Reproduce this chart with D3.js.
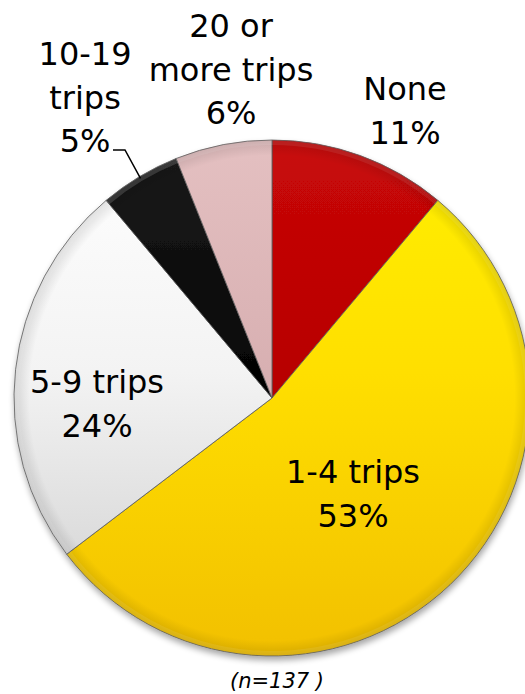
<!DOCTYPE html>
<html>
<head>
<meta charset="utf-8">
<script src="https://cdn.jsdelivr.net/npm/d3@7"></script>
<style>
  html, body { margin: 0; padding: 0; background: #fff; }
  svg { display: block; }
</style>
</head>
<body>
<script>
// chart data
var categories = ["None", "1-4 trips", "5-9 trips", "10-19 trips", "20 or more trips"];
var shares = [11, 53, 24, 5, 6];
var pctLabels = ["11%", "53%", "24%", "5%", "6%"];
var labelLines = [["None", "11%"], ["1-4 trips", "53%"], ["5-9 trips", "24%"], ["10-19", "trips", "5%"], ["20 or", "more trips", "6%"]];
var note = "(n=137 )";

var width = 525, height = 694;
var cx = 272, cy = 398, radius = 258;

var colors = ["#b80202", "#ffdf00", "#f3f3f3", "#050505", "#d8b0b2"];
var lightColors = ["#c80808", "#fff000", "#ffffff", "#1c1c1c", "#e4c0c1"];
var darkColors = ["#a00000", "#f2c000", "#cdcdcd", "#000000", "#c69ea0"];

// label anchors relative to pie centre (first line baseline)
var labelPos = [[133, -298], [81, 85], [-175, -5], [-187, -333], [-41, -361]];
var lineGap = 43.5;

var svg = d3.select("body").append("svg")
  .attr("width", width)
  .attr("height", height);

var defs = svg.append("defs");

// vertical shading for each slice
colors.forEach(function (c, i) {
  var g = defs.append("linearGradient")
    .attr("id", "grad" + i)
    .attr("gradientUnits", "userSpaceOnUse")
    .attr("x1", 0).attr("y1", -radius)
    .attr("x2", 0).attr("y2", radius);
  g.append("stop").attr("offset", "0%").attr("stop-color", lightColors[i]);
  g.append("stop").attr("offset", "45%").attr("stop-color", colors[i]);
  g.append("stop").attr("offset", "100%").attr("stop-color", darkColors[i]);
});

// rim darkening
var rim = defs.append("radialGradient")
  .attr("id", "rim")
  .attr("gradientUnits", "userSpaceOnUse")
  .attr("cx", 0).attr("cy", 0).attr("r", radius);
rim.append("stop").attr("offset", "94%").attr("stop-color", "#000").attr("stop-opacity", 0);
rim.append("stop").attr("offset", "100%").attr("stop-color", "#000").attr("stop-opacity", 0.12);

var shadow = defs.append("filter").attr("id", "shadow")
  .attr("x", "-10%").attr("y", "-10%").attr("width", "120%").attr("height", "120%");
shadow.append("feGaussianBlur").attr("in", "SourceAlpha").attr("stdDeviation", 3);
shadow.append("feOffset").attr("dx", 1).attr("dy", 4).attr("result", "b");
shadow.append("feComponentTransfer").append("feFuncA").attr("type", "linear").attr("slope", 0.35);
var merge = shadow.append("feMerge");
merge.append("feMergeNode");
merge.append("feMergeNode").attr("in", "SourceGraphic");

var pie = d3.pie().sort(null).value(function (d) { return d; });
var arcs = pie(shares);

var arc = d3.arc().innerRadius(0).outerRadius(radius);
var bevel = d3.arc().innerRadius(radius - 5).outerRadius(radius);

var g = svg.append("g").attr("transform", "translate(" + cx + "," + cy + ")");

var pieG = g.append("g").attr("filter", "url(#shadow)");

pieG.selectAll("path.slice")
  .data(arcs)
  .enter().append("path")
  .attr("class", "slice")
  .attr("d", arc)
  .attr("fill", function (d, i) { return "url(#grad" + i + ")"; })
  .attr("stroke", "#5a5a5a")
  .attr("stroke-width", 0.8)
  .attr("stroke-linejoin", "round");

g.append("circle")
  .attr("r", radius)
  .attr("fill", "url(#rim)")
  .attr("pointer-events", "none");

// light bevel near rim
g.selectAll("path.bevel")
  .data(arcs)
  .enter().append("path")
  .attr("class", "bevel")
  .attr("d", bevel)
  .attr("fill", "#fff")
  .attr("opacity", function (d, i) { return i === 3 ? 0.15 : 0.08; });

// labels
var labels = g.selectAll("text.lab")
  .data(arcs)
  .enter().append("text")
  .attr("class", "lab")
  .attr("text-anchor", "middle")
  .attr("font-family", "DejaVu Sans, sans-serif")
  .attr("font-size", 32)
  .attr("fill", "#000");

labels.each(function (d, i) {
  var t = d3.select(this);
  labelLines[i].forEach(function (line, k) {
    t.append("tspan")
      .attr("x", labelPos[i][0])
      .attr("y", labelPos[i][1] + k * lineGap)
      .text(line);
  });
});

// leader line for the 10-19 slice
var leadStart = [labelPos[3][0] + 28, labelPos[3][1] + 2 * lineGap - 2];
var leadEnd = d3.arc().innerRadius(radius - 2).outerRadius(radius - 2).centroid(arcs[3]);
g.append("path")
  .attr("d", d3.line()([leadStart, [leadStart[0] + 12, leadStart[1]], leadEnd]))
  .attr("fill", "none")
  .attr("stroke", "#000")
  .attr("stroke-width", 1.5);

svg.append("text")
  .attr("x", 277)
  .attr("y", 688)
  .attr("text-anchor", "middle")
  .attr("font-family", "DejaVu Sans, sans-serif")
  .attr("font-style", "italic")
  .attr("font-size", 21)
  .attr("fill", "#000")
  .text(note);
</script>
</body>
</html>
